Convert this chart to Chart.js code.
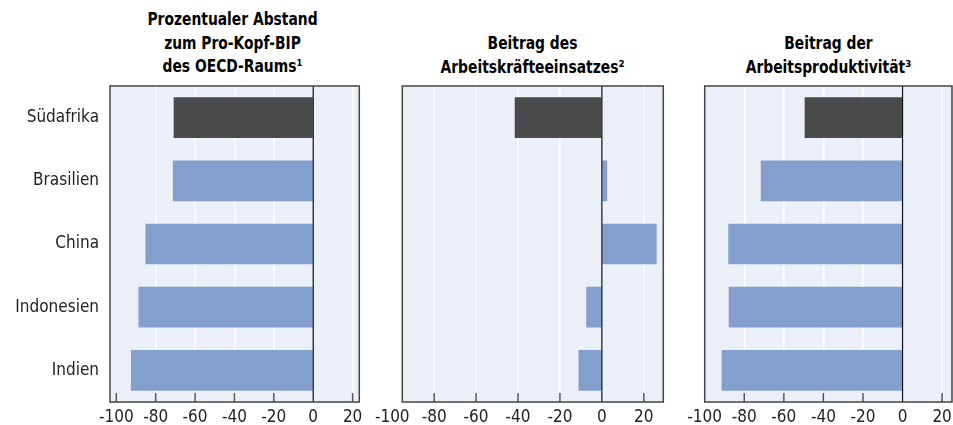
<!DOCTYPE html>
<html>
<head>
<meta charset="utf-8">
<script src="https://cdn.jsdelivr.net/npm/chart.js@4.4.1/dist/chart.umd.min.js"></script>
<style>
  body { margin: 0; background: #fff; width: 953px; height: 425px; position: relative; overflow: hidden; }
  canvas { position: absolute; top: 0; }
  .title {
    position: absolute;
    font-family: 'DejaVu Sans Condensed', 'DejaVu Sans', sans-serif;
    font-weight: bold; font-size: 17.5px; line-height: 23.5px;
    text-align: center; color: #000;
    transform: scaleX(0.88);
  }
</style>
</head>
<body>
<div class="title" style="left:98px;width:269px;top:8px">Prozentualer Abstand<br>zum Pro-Kopf-BIP<br>des OECD-Raums¹</div>
<div class="title" style="left:392px;width:281px;top:32px">Beitrag des<br>Arbeitskräfteeinsatzes²</div>
<div class="title" style="left:695px;width:267px;top:32px">Beitrag der<br>Arbeitsproduktivität³</div>
<canvas id="c1" width="370" height="425" style="left:0"></canvas>
<canvas id="c2" width="300" height="425" style="left:370px"></canvas>
<canvas id="c3" width="292" height="425" style="left:670px"></canvas>
<script>
const countries = ['Südafrika', 'Brasilien', 'China', 'Indonesien', 'Indien'];
const gapToOecd = [-70.7, -71.1, -85, -88.6, -92.4];
const labourInput = [-41.4, 2.4, 26, -7.3, -11];
const labourProductivity = [-49.3, -71.5, -87.9, -87.7, -91.3];
const xTicks = [-100, -80, -60, -40, -20, 0, 20];

const barColors = countries.map(c => c === 'Südafrika' ? '#4a4a4a' : '#829fcd');
const labelFont = { family: "'DejaVu Sans Condensed', 'DejaVu Sans', sans-serif", size: 17 };

// panel background, inner tick marks, zero line and frame
const panelFrame = {
  id: 'panelFrame',
  beforeDraw(chart) {
    const { ctx, chartArea: a } = chart;
    ctx.save();
    ctx.fillStyle = '#ebf0f8';
    ctx.fillRect(a.left, a.top, a.right - a.left, a.bottom - a.top);
    ctx.restore();
  },
  afterDatasetsDraw(chart) {
    const { ctx, chartArea: a } = chart;
    const x = chart.scales.x;
    ctx.save();
    ctx.strokeStyle = '#555';
    ctx.lineWidth = 1.5;
    xTicks.forEach(v => {
      if (v <= x.min || v >= x.max || v === 0) return;
      const px = x.getPixelForValue(v);
      ctx.beginPath();
      ctx.moveTo(px, a.bottom);
      ctx.lineTo(px, a.bottom - 9);
      ctx.stroke();
    });
    const z = x.getPixelForValue(0);
    ctx.strokeStyle = '#111';
    ctx.lineWidth = 1.2;
    ctx.beginPath();
    ctx.moveTo(z, a.top);
    ctx.lineTo(z, a.bottom);
    ctx.stroke();
    ctx.strokeStyle = '#444';
    ctx.lineWidth = 1.5;
    ctx.strokeRect(a.left, a.top, a.right - a.left, a.bottom - a.top);
    ctx.restore();
  }
};

function makePanel(id, values, xMin, xMax, padLeft, padRight, showLabels) {
  return new Chart(document.getElementById(id), {
    type: 'bar',
    data: {
      labels: countries,
      datasets: [{ data: values, backgroundColor: barColors, barThickness: 40 }]
    },
    options: {
      indexAxis: 'y',
      responsive: false,
      animation: false,
      layout: { padding: { top: 86, bottom: 0, left: padLeft, right: padRight } },
      plugins: { legend: { display: false }, tooltip: { enabled: false } },
      scales: {
        x: {
          type: 'linear',
          min: xMin,
          max: xMax,
          afterBuildTicks: s => { s.ticks = xTicks.map(v => ({ value: v })); },
          afterFit: s => { s.height = 23; },
          border: { display: false },
          grid: {
            drawTicks: false,
            lineWidth: 1.5,
            color: c => (c.tick && (c.tick.value === 0 || c.tick.value === -100)) ? 'rgba(0,0,0,0)' : '#ffffff'
          },
          ticks: { autoSkip: false, maxRotation: 0, padding: 5, color: '#222', font: labelFont }
        },
        y: {
          display: showLabels,
          afterFit: s => { s.width = showLabels ? 110 : 0; },
          border: { display: false },
          grid: { display: false, drawTicks: false },
          ticks: { padding: 11, color: '#222', font: labelFont }
        }
      }
    },
    plugins: [panelFrame]
  });
}

makePanel('c1', gapToOecd, -103.2, 23.4, 0, 10.7, true);
makePanel('c2', labourInput, -95.2, 29.3, 32.3, 6.7, false);
makePanel('c3', labourProductivity, -100, 25, 34.7, 10, false);
</script>
</body>
</html>
